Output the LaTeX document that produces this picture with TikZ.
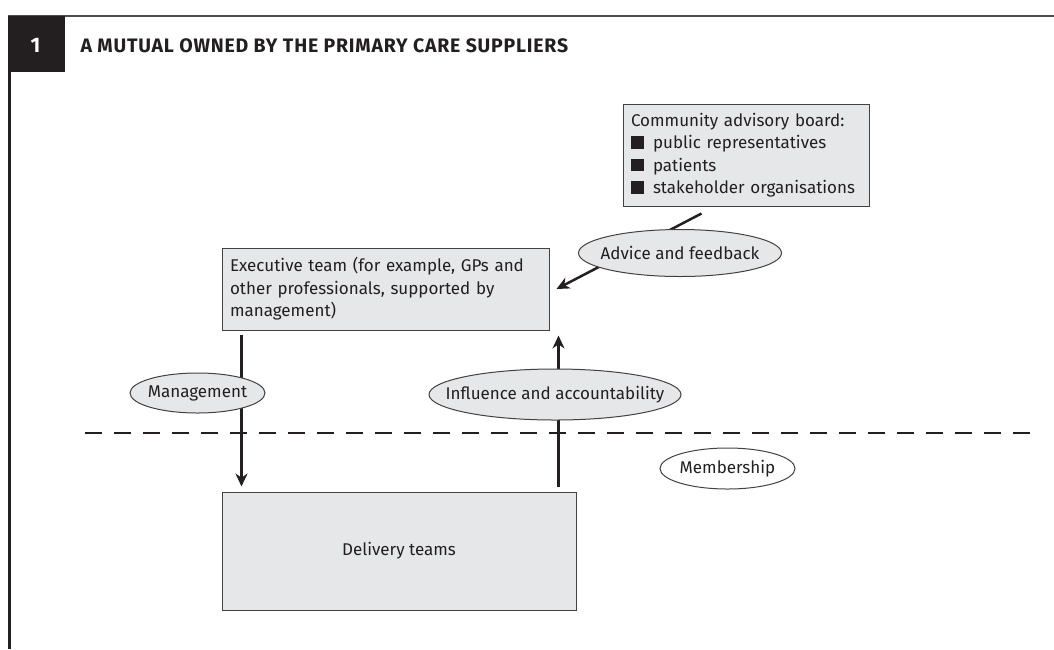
\documentclass[tikz,border=0pt]{standalone}
\usepackage{fontspec}
\setmainfont{Fira Sans}
\usetikzlibrary{arrows.meta, shapes.geometric}
\definecolor{ink}{HTML}{231F20}
\definecolor{boxgray}{HTML}{E6E7E9}
\newcommand{\bul}{\rule{12.5pt}{12.5pt}\hspace{9.5pt}}
\tikzset{
  box/.style={rectangle, draw=ink!85, line width=1pt, fill=boxgray, text=ink,
    font=\fontsize{17}{22.5}\selectfont},
  oval/.style={ellipse, draw=ink!85, line width=1pt, fill=boxgray, text=ink,
    inner sep=0pt, font=\fontsize{17}{20}\selectfont},
  flow/.style={->, draw=ink, line width=3pt},
}

\begin{document}
\begin{tikzpicture}[x=1pt, y=-1pt, >={Stealth[length=13pt,width=12pt]}]
    \useasboundingbox (0,0) rectangle (1054,649);

    % header
    \draw[ink!80, line width=2pt] (8,16) -- (1054,16);
    \draw[ink, line width=3pt] (9.5,16) -- (9.5,649);
    \fill[ink] (8,16) rectangle (65,72);
    \node[text=white, font=\fontsize{21}{24}\selectfont\bfseries] (num) at (35.5,45.5) {1};
    \node[anchor=west, text=ink,
      font=\fontsize{19.5}{22}\selectfont\bfseries\addfontfeatures{LetterSpace=4}]
      (title) at (77,46) {A MUTUAL OWNED BY THE PRIMARY CARE SUPPLIERS};

    % membership boundary
    \draw[ink, line width=2pt, dash pattern=on 17pt off 12pt] (85,433) -- (1030,433);

    \node[box, minimum width=246pt, minimum height=102pt, text width=230pt, align=left]
      (board) at (746,155)
      {Community advisory board:\\
       \bul public representatives\\
       \bul patients\\
       \bul stakeholder organisations};

    \node[box, minimum width=327pt, minimum height=82pt, text width=311pt, align=left]
      (exec) at (385.5,289)
      {Executive team (for example, GPs and\\
       other professionals, supported by\\
       management)};

    \node[box, minimum width=354pt, minimum height=118pt] (deliv) at (399,551)
      {Delivery teams};

    \draw[flow] ([xshift=20pt,yshift=-4pt]exec.south west)
      -- ([xshift=20pt,yshift=5pt]deliv.north west);
    \draw[flow] ([xshift=-18pt,yshift=5pt]deliv.north east)
      -- ([xshift=9pt,yshift=-5pt]exec.south east);
    \draw[flow, line width=2.5pt] ([xshift=79pt,yshift=-7pt]board.south west)
      -- ([xshift=7pt]exec.east);

    \node[oval, minimum width=203pt, minimum height=47pt] (advice) at (680,253)
      {\makebox[0pt]{Advice and feedback}};
    \node[oval, minimum width=135pt, minimum height=40pt] (mgmt) at (197.5,393)
      {\makebox[0pt]{Management}};
    \node[oval, minimum width=252pt, minimum height=51pt] (infl) at (555,394.5)
      {\makebox[0pt]{Influence and accountability}};
    \node[oval, fill=white, minimum width=135pt, minimum height=41pt] (memb) at (727.5,468.5)
      {\makebox[0pt]{Membership}};
\end{tikzpicture}
\end{document}
